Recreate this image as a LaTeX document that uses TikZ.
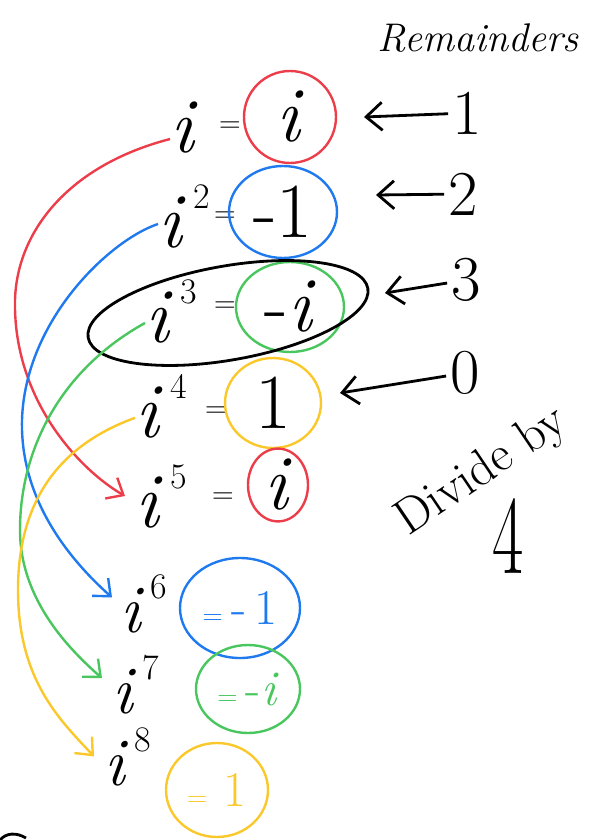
\documentclass[tikz,border=0pt]{standalone}
\usepackage{amsmath,amssymb}
\usepackage{tikz}
\usetikzlibrary{arrows.meta,shapes.geometric}
\definecolor{ringred}{RGB}{236,62,74}
\definecolor{ringblue}{RGB}{30,122,238}
\definecolor{ringgreen}{RGB}{74,198,94}
\definecolor{ringyellow}{RGB}{250,200,42}
\newcommand{\lileq}{{\fontsize{28}{32}\selectfont =}}
\newcommand{\pw}[1]{\textit{i}\kern0.1em\raisebox{0.5em}{\fontsize{36}{40}\selectfont #1}}

\begin{document}
\begin{tikzpicture}[x=1pt,y=-1pt,
  big/.style={font=\fontsize{78}{84}\selectfont,inner sep=0pt},
  small/.style={font=\fontsize{68}{74}\selectfont,inner sep=0pt},
  inring/.style={font=\fontsize{50}{56}\selectfont,text=#1},
  eqsign/.style={font=\fontsize{30}{34}\selectfont,inner sep=0pt},
  ring/.style={ellipse,draw=#1,line width=2.4pt,inner sep=0pt},
  loopline/.style={draw=#1,line width=2.4pt,-{Straight Barb[length=14pt,width=24pt]}},
  backarrow/.style={line width=2.8pt,-{Straight Barb[length=16pt,width=28pt]}},
  rem/.style={font=\fontsize{64}{70}\selectfont,inner sep=4pt}]
  \useasboundingbox (0,0) rectangle (596,840);
  \node[font=\fontsize{40}{46}\selectfont\itshape] (title) at (478,38) {Remainders};
  \node[big,anchor=base west] (b1) at (170,152) {\textit{i}};
  \node[big,anchor=base west] (b2) at (158,247) {\pw{2}};
  \node[big,anchor=base west] (b3) at (145,342) {\pw{3}};
  \node[big,anchor=base west] (b4) at (135,437) {\pw{4}};
  \node[big,anchor=base west] (b5) at (135,527) {\pw{5}};
  \node[small,anchor=base west] (b6) at (120,632) {\pw{6}};
  \node[small,anchor=base west] (b7) at (112,713) {\pw{7}};
  \node[small,anchor=base west] (b8) at (104,785) {\pw{8}};
  \node[eqsign] (e1) at (230,127) {=};
  \node[eqsign] (e2) at (225,217) {=};
  \node[eqsign] (e3) at (225,307) {=};
  \node[eqsign] (e4) at (216,412) {=};
  \node[eqsign] (e5) at (223,498) {=};
  \node[ring=ringred,big,minimum width=92pt,minimum height=92pt] (v1) at (290,117) {\textit{i}};
  \node[ring=ringblue,big,minimum width=108pt,minimum height=92pt] (v2) at (283,212) {-1};
  \node[ring=ringgreen,big,minimum width=108pt,minimum height=90pt] (v3) at (290,307) {-\textit{i}};
  \node[ring=ringyellow,big,minimum width=96pt,minimum height=90pt] (v4) at (273,403) {1};
  \node[ring=ringred,big,minimum width=60pt,minimum height=66pt] (v5) at (278,485) {\textit{i}};
  \node[ring=ringblue,inring=ringblue,minimum width=120pt,minimum height=100pt] (v6) at (240,608) {\lileq\,-\,1};
  \node[ring=ringgreen,inring=ringgreen,minimum width=104pt,minimum height=88pt] (v7) at (248,689) {\lileq\,-\textit{i}};
  \node[ring=ringyellow,inring=ringyellow,minimum width=102pt,minimum height=94pt] (v8) at (217,790) {\lileq\,\,1};
  \node[draw,ellipse,line width=2.8pt,minimum width=284pt,minimum height=94pt,rotate=10] (pick) at (228,313) {};
  \node[rem] (n1) at (467,113) {1};
  \node[rem] (n2) at (463,194) {2};
  \node[rem] (n3) at (466,280) {3};
  \node[rem] (n0) at (465,373) {0};
  \coordinate (t1) at (364,117);
  \coordinate (t2) at (376,195);
  \coordinate (t3) at (385,293);
  \coordinate (t0) at (340,393);
  \draw[backarrow] (n1) -- (t1);
  \draw[backarrow] (n2) -- (t2);
  \draw[backarrow] (n3) -- (t3);
  \draw[backarrow] (n0) -- (t0);
  \node[font=\fontsize{50}{56}\selectfont,rotate=34] (div) at (482,472) {Divide by};
  \node[font=\fontsize{80}{86}\selectfont] (four) at (508,536) {\scalebox{0.85}[1.4]{4}};
  \draw[loopline=ringred] ([yshift=-12pt]b1.west) .. controls (70,165) and (17,230) .. (15,300) .. controls (13,400) and (80,470) .. ([xshift=-10pt]b5.west);
  \draw[loopline=ringblue] ([yshift=-8pt]b2.west) .. controls (110,240) and (25,320) .. (22,420) .. controls (20,500) and (70,560) .. ([xshift=-8pt,yshift=6pt]b6.west);
  \draw[loopline=ringgreen] ([yshift=-12pt]b3.west) .. controls (60,370) and (20,450) .. (20,530) .. controls (20,600) and (70,650) .. ([xshift=-10pt,yshift=6pt]b7.west);
  \draw[loopline=ringyellow] ([yshift=-12pt]b4.west) .. controls (60,445) and (18,500) .. (18,590) .. controls (18,680) and (60,720) .. ([xshift=-10pt]b8.west);
  \draw[line width=2.8pt] (0,840) .. controls (6,833) and (16,832) .. (26,838);
\end{tikzpicture}
\end{document}
